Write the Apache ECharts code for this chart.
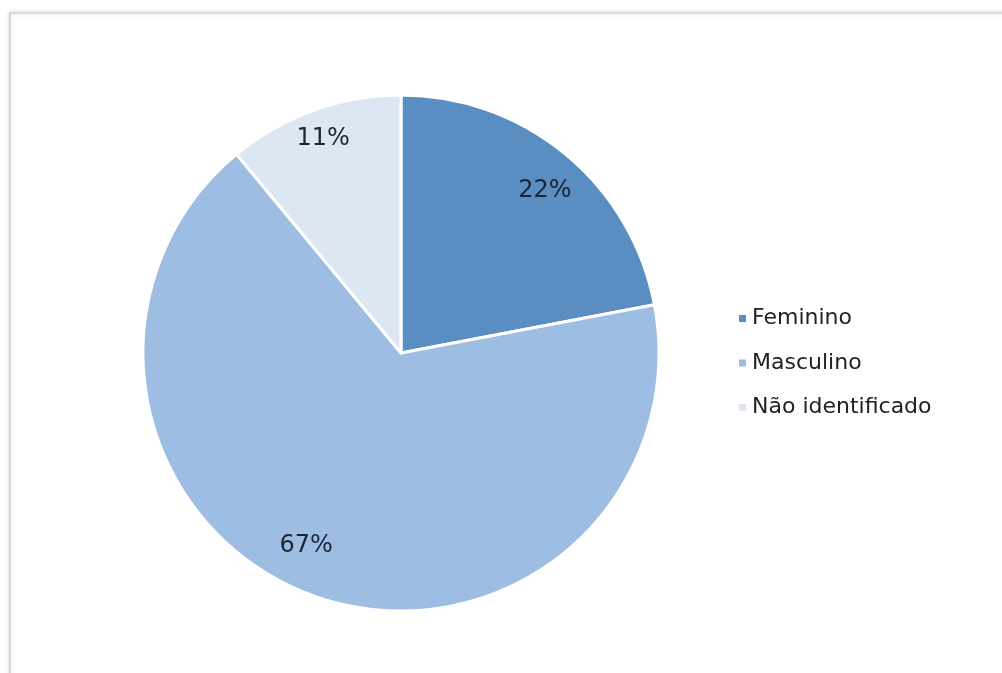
<!DOCTYPE html>
<html><head><meta charset="utf-8">
<script src="https://cdn.jsdelivr.net/npm/echarts@6/dist/echarts.min.js"></script>
<style>html,body{margin:0;padding:0;background:#fff}#c{width:1002px;height:673px}</style>
</head><body><div id="c"></div>
<script>
const categories = ['Feminino', 'Masculino', 'Não identificado'];
const values = [22, 67, 11];
const colors = ['#5a8dc1', '#9dbde3', '#dde7f3'];
const labelNudges = [[3, 8], [-20, -15], [-3, -6]];

const chart = echarts.init(document.getElementById('c'));
const data = categories.map((n, i) => ({ name: n, value: values[i], itemStyle: { color: colors[i] } }));
const labelData = categories.map((n, i) => ({
  name: n, value: values[i],
  label: { offset: labelNudges[i] }
}));
chart.setOption({
  animation: false,
  graphic: [{
    type: 'rect', silent: true, z: -10,
    shape: { x: 10, y: 13, width: 1100, height: 800 },
    style: { fill: '#fff', stroke: '#d0d0d0', lineWidth: 1.5, shadowBlur: 5, shadowColor: 'rgba(0,0,0,0.15)' }
  }],
  legend: {
    orient: 'vertical', left: 732, top: 302,
    itemWidth: 9, itemHeight: 9, itemGap: 21.5, itemTextGap: 11,
    icon: 'rect',
    textStyle: { fontFamily: 'DejaVu Sans', fontSize: 22, color: '#222', lineHeight: 23 },
    data: categories
  },
  series: [{
    type: 'pie', center: [401, 353], radius: [0, 258], startAngle: 90, clockwise: true,
    itemStyle: { borderColor: '#fff', borderWidth: 3 },
    label: { show: false }, labelLine: { show: false },
    emphasis: { disabled: true },
    data: data
  }, {
    type: 'pie', center: [401, 353], radius: [178, 258], startAngle: 90, clockwise: true,
    silent: true, legendHoverLink: false,
    itemStyle: { color: 'rgba(0,0,0,0)' },
    label: { show: true, position: 'inside', formatter: '{c}%', fontFamily: 'DejaVu Sans', fontSize: 24, color: '#1c2533' },
    labelLine: { show: false },
    emphasis: { disabled: true },
    data: labelData
  }]
});
</script></body></html>
